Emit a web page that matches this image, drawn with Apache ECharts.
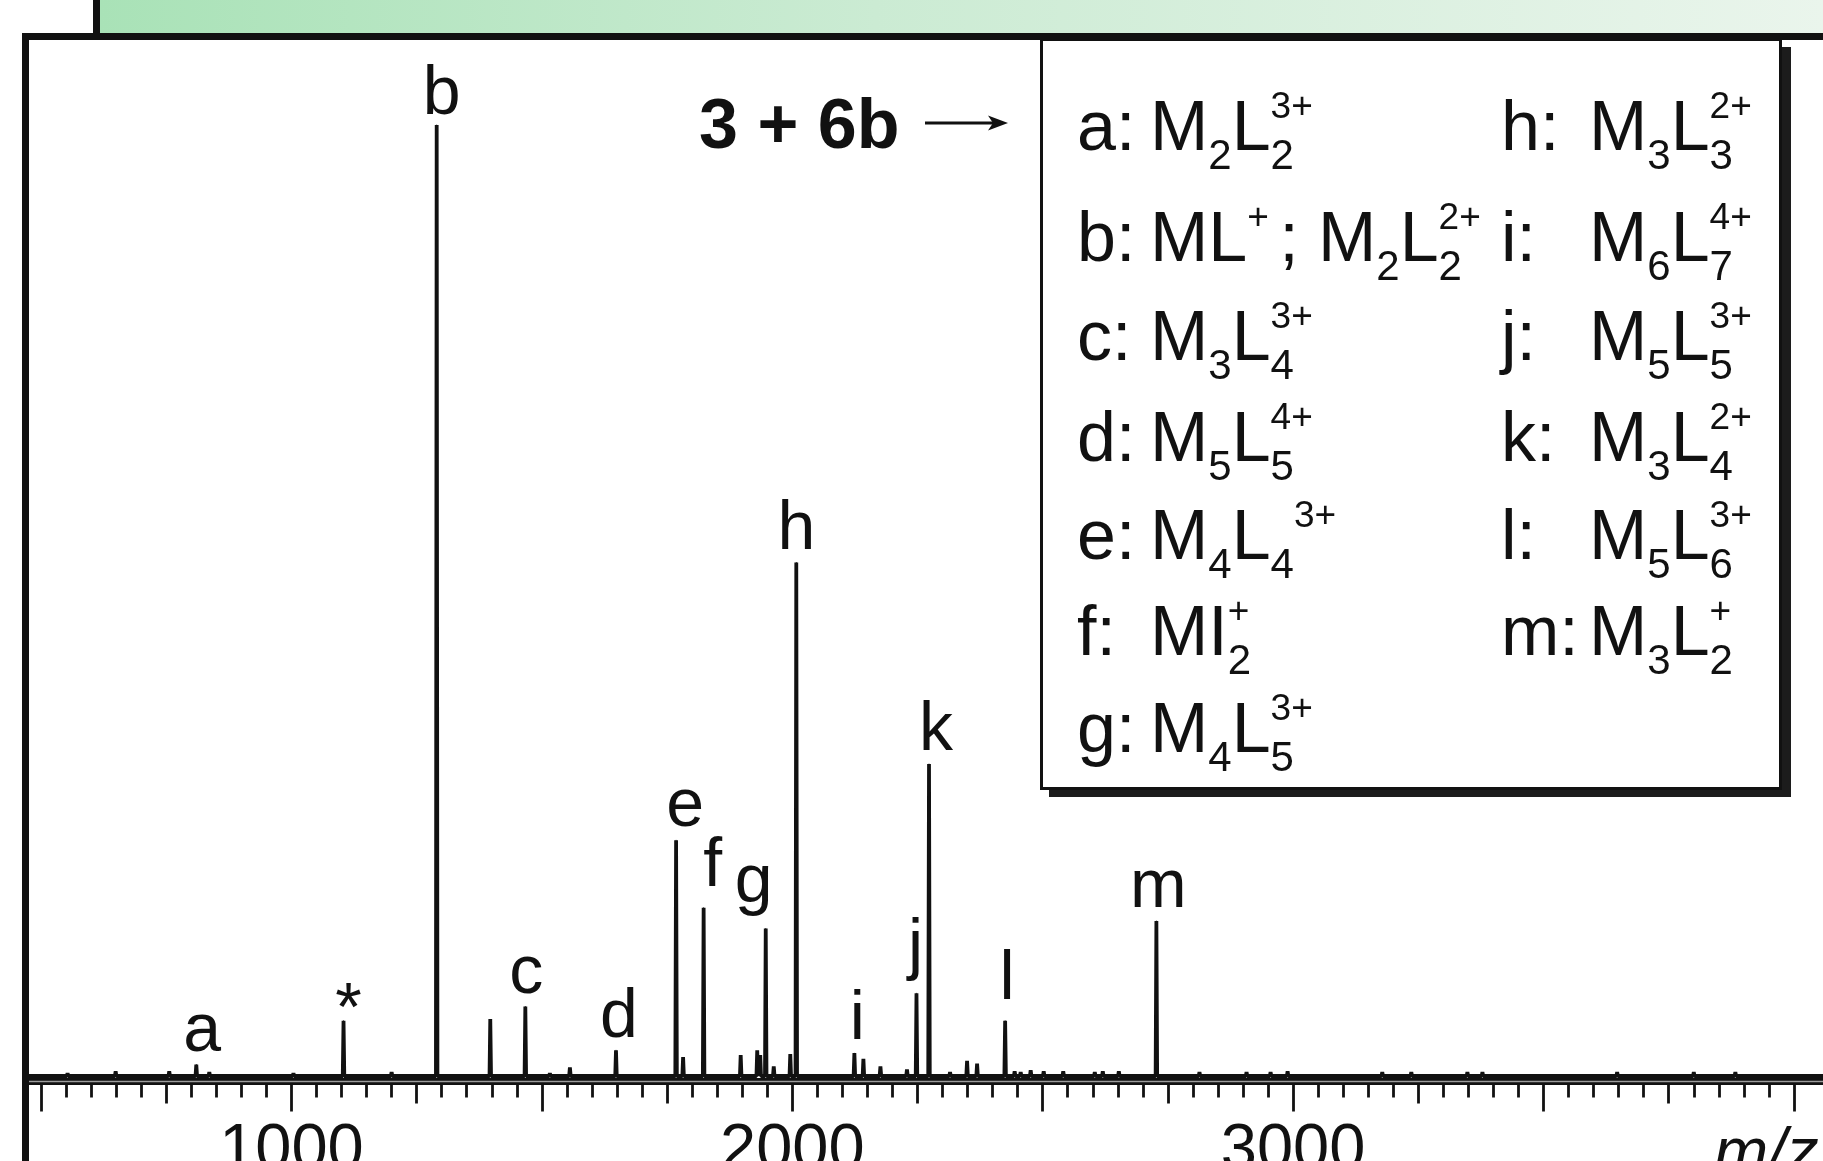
<!DOCTYPE html>
<html><head><meta charset="utf-8">
<script src="https://cdn.jsdelivr.net/npm/echarts@6/dist/echarts.min.js"></script>
<style>html,body{margin:0;padding:0;background:#fff;}#c{width:1823px;height:1161px;}</style>
</head><body><div id="c"></div>
<script>
// ---------------- DATA ----------------
const peakLabels    = ['a', '*',  'b',  'c',  'd',  'e',  'f',  'g',  'h',  'i',  'j',  'k',  'l',  'm'];
const peakMz        = [810, 1104, 1290, 1467, 1648, 1768, 1823, 1947, 2008, 2124, 2248, 2273, 2425, 2727];
const peakIntensity = [1.2, 5.8,  100,  7.3,  2.7,  24.8, 17.7, 15.5, 54,   2.4,  8.7,  32.8, 5.8,  16.3];

const minorMz        = [553, 649, 756, 836, 1004, 1200, 1397, 1516, 1556, 1782, 1897, 1930, 1936, 1963, 1996, 2142, 2176, 2229, 2315, 2349, 2369, 2444, 2456, 2476, 2502, 2541, 2604, 2620, 2652, 2813, 2907, 2955, 2989, 3178, 3236, 3348, 3378, 3647, 3800, 3883];
const minorIntensity = [0.3, 0.5, 0.5, 0.4, 0.3,  0.4,  6.0,  0.3,  0.9,  2.0,  2.2,  2.7,  2.2,  1.0,  2.3,  1.8,  1.0,  0.7,  0.4,  1.6,  1.3,  0.5,  0.4,  0.6,  0.5,  0.5,  0.4,  0.5,  0.5,  0.4,  0.4,  0.4,  0.5,  0.4,  0.4,  0.4,  0.4,  0.4,  0.4,  0.4];

const tickLabelValues = [1000, 2000, 3000];
const axisLabelText = 'm/z';
const titleText = '3 + 6b';

const legendLeftKeys  = ['a', 'b', 'c', 'd', 'e', 'f', 'g'];
const legendLeftForm  = ['M_2L_2^{3+}', 'ML^{+ }; M_2L_2^{2+}', 'M_3L_4^{3+}', 'M_5L_5^{4+}', 'M_4L_4|^{3+}', 'MI_2^+', 'M_4L_5^{3+}'];
const legendRightKeys = ['h', 'i', 'j', 'k', 'l', 'm'];
const legendRightForm = ['M_3L_3^{2+}', 'M_6L_7^{4+}', 'M_5L_5^{3+}', 'M_3L_4^{2+}', 'M_5L_6^{3+}', 'M_3L_2^+'];

// ---------------- STYLE / LAYOUT ----------------
const FONT = '"Liberation Sans", Arial, Helvetica, sans-serif';
const INK = '#111';
const X_MIN = 470, X_MAX = 4060;
const labelNudge = {a:[6,0], '*':[5,23], b:[5,3], c:[1,0], d:[3,0], e:[9,0], f:[9,-8], g:[-12,-13], i:[3,0], j:[-1,-13], k:[7,0], l:[2,-8], m:[2,0]};

const majorTicks = [], midTicks = [], minorTicks = [];
for (let v = 500; v <= 4000; v += 50) {
  if (v % 500 === 0) majorTicks.push(v);
  else if (v % 250 === 0) midTicks.push(v);
  else minorTicks.push(v);
}

// ---------------- SERIES DATA ----------------
const allPeaks = [];
peakMz.forEach((x, i) => allPeaks.push({x: x, y: peakIntensity[i]}));
minorMz.forEach((x, i) => allPeaks.push({x: x, y: minorIntensity[i]}));
allPeaks.sort((p, q) => p.x - q.x);
const HW = 1.5;
const specData = [[X_MIN, 0]];
allPeaks.forEach(p => {
  specData.push([p.x - HW, 0]);
  specData.push([p.x, p.y]);
  specData.push([p.x + HW, 0]);
});
specData.push([X_MAX, 0]);
const labelData = peakMz.map((x, i) => ({
  value: [x, peakIntensity[i]],
  label: {formatter: peakLabels[i], offset: labelNudge[peakLabels[i]] || [0, 0]}
}));

// ---------------- TEXT HELPERS ----------------
const cv = document.createElement('canvas').getContext('2d');
function setFont(size, weight, style) { cv.font = (style || 'normal') + ' ' + (weight || 'normal') + ' ' + size + 'px ' + FONT; }
function measure(t, size, weight, style) { setFont(size, weight, style); return cv.measureText(t).width; }
function midOffset(size, weight, style) {
  setFont(size, weight, style); cv.textBaseline = 'middle';
  const m = cv.measureText('H'); cv.textBaseline = 'alphabetic';
  return m.actualBoundingBoxDescent;
}
function textEl(t, x, baseline, size, opts) {
  opts = opts || {};
  return {type: 'text', x: x, y: baseline - midOffset(size, opts.weight, opts.style), z: 60,
    style: {text: t, fontSize: size, fontFamily: FONT, fontWeight: opts.weight || 'normal', fontStyle: opts.style || 'normal',
      fill: INK, align: 'left', verticalAlign: 'middle', textAlign: 'left', textVerticalAlign: 'middle'}};
}
function parseFormula(f) {
  const out = []; let i = 0;
  while (i < f.length) {
    const c = f[i];
    if (c === '_' || c === '^') {
      let t;
      if (f[i + 1] === '{') { const j = f.indexOf('}', i); t = f.slice(i + 2, j); i = j + 1; }
      else { t = f[i + 1]; i += 2; }
      out.push({type: c === '_' ? 'sub' : 'sup', text: t});
    } else if (c === '|') { out.push({type: 'brk'}); i++; }
    else { let j = i; while (j < f.length && '_^|'.indexOf(f[j]) < 0) j++; out.push({type: 'n', text: f.slice(i, j)}); i = j; }
  }
  return out;
}
const L_SIZE = 70, SUB_SIZE = 42, SUP_SIZE = 37, SUB_DY = 19, SUP_DY = -32;
function formulaEls(f, x0, base) {
  const els = []; let x = x0; let lastSub = null;
  parseFormula(f).forEach(tk => {
    if (tk.type === 'n') { els.push(textEl(tk.text, x, base, L_SIZE)); x += measure(tk.text, L_SIZE); lastSub = null; }
    else if (tk.type === 'sub') { const w = measure(tk.text, SUB_SIZE); els.push(textEl(tk.text, x, base + SUB_DY, SUB_SIZE)); lastSub = {x: x, w: w}; x += w; }
    else if (tk.type === 'sup') {
      const w = measure(tk.text, SUP_SIZE);
      if (lastSub) { els.push(textEl(tk.text, lastSub.x, base + SUP_DY, SUP_SIZE)); x = lastSub.x + Math.max(lastSub.w, w); }
      else { els.push(textEl(tk.text, x, base + SUP_DY, SUP_SIZE)); x += w; }
      lastSub = null;
    } else { lastSub = null; }
  });
  return els;
}

// ---------------- GRAPHICS ----------------
const rowsBase = [150, 261, 360, 461, 559, 655, 752];
const g = [];
g.push({type: 'rect', z: 90, shape: {x: 100, y: 0, width: 1723, height: 33},
  style: {fill: {type: 'linear', x: 0, y: 0, x2: 1, y2: 0, colorStops: [
    {offset: 0, color: '#a9e2b7'}, {offset: 0.45, color: '#cbebd3'}, {offset: 1, color: '#eaf5ec'}]}}});
g.push({type: 'rect', z: 91, shape: {x: 93, y: 0, width: 7, height: 40}, style: {fill: INK}});
g.push({type: 'rect', z: 91, shape: {x: 22, y: 33, width: 1801, height: 7}, style: {fill: INK}});
g.push({type: 'rect', z: 91, shape: {x: 22, y: 33, width: 7, height: 1128}, style: {fill: INK}});
g.push({type: 'rect', z: 40, shape: {x: 1049, y: 47, width: 742, height: 750}, style: {fill: '#1c1c1c'}});
g.push({type: 'rect', z: 41, shape: {x: 1041.5, y: 39.5, width: 739, height: 749}, style: {fill: '#fff', stroke: INK, lineWidth: 3}});
legendLeftKeys.forEach((k, i) => {
  g.push(textEl(k + ':', 1077, rowsBase[i], L_SIZE));
  formulaEls(legendLeftForm[i], 1150, rowsBase[i]).forEach(e => g.push(e));
});
legendRightKeys.forEach((k, i) => {
  g.push(textEl(k + ':', 1501, rowsBase[i], L_SIZE));
  formulaEls(legendRightForm[i], 1589, rowsBase[i]).forEach(e => g.push(e));
});
g.push(textEl(titleText, 699, 148, 70, {weight: 'bold'}));
g.push({type: 'line', z: 60, shape: {x1: 925, y1: 123, x2: 996, y2: 123}, style: {stroke: INK, lineWidth: 3}});
g.push({type: 'polygon', z: 60, shape: {points: [[1008, 123], [988, 115.5], [993, 123], [988, 130.5]]}, style: {fill: INK}});
g.push(textEl(axisLabelText, 1714, 1173, 65, {style: 'italic'}));

// ---------------- CHART ----------------
const chart = echarts.init(document.getElementById('c'), null, {renderer: 'canvas'});
function tickAxis(values, len) {
  return {
    type: 'value', min: X_MIN, max: X_MAX, position: 'bottom',
    axisLine: {show: false, onZero: false},
    axisTick: {show: true, customValues: values, length: len, lineStyle: {color: INK, width: 2.8}},
    axisLabel: {show: false}, splitLine: {show: false}, minorTick: {show: false}
  };
}
const option = {
  animation: false,
  backgroundColor: '#fff',
  grid: {left: 26, right: -1, top: 125, bottom: 79.5, containLabel: false, outerBoundsMode: 'none'},
  xAxis: [
    {
      type: 'value', min: X_MIN, max: X_MAX, position: 'bottom', z: 1,
      axisLine: {show: true, onZero: false, lineStyle: {color: INK, width: 7}},
      axisTick: {show: true, customValues: majorTicks, length: 30, lineStyle: {color: INK, width: 2.8}},
      axisLabel: {show: true, customValues: tickLabelValues, fontSize: 65, fontFamily: FONT, color: INK, margin: 37,
        formatter: v => String(v)},
      splitLine: {show: false}
    },
    tickAxis(midTicks, 22),
    tickAxis(minorTicks, 16),
    {type: 'value', min: X_MIN, max: X_MAX, position: 'bottom', z: 3,
      axisLine: {show: true, onZero: false, lineStyle: {color: '#9c9c9c', width: 1.3}},
      axisTick: {show: false}, axisLabel: {show: false}, splitLine: {show: false}}
  ],
  yAxis: {type: 'value', min: -0.578, max: 100, show: false, splitLine: {show: false}},
  series: [{
    type: 'line', xAxisIndex: 0, yAxisIndex: 0, data: specData,
    symbol: 'none', showSymbol: false, sampling: null, silent: true, z: 5,
    lineStyle: {color: INK, width: 3.8, join: 'bevel'}
  }, {
    type: 'scatter', xAxisIndex: 0, yAxisIndex: 0, data: labelData, silent: true, z: 6,
    symbol: 'circle', symbolSize: 1, itemStyle: {color: INK, opacity: 1},
    label: {show: true, position: 'top', distance: -2, fontSize: 68, fontFamily: FONT, color: INK, opacity: 1}
  }],
  graphic: {elements: g}
};
chart.setOption(option);
</script>
</body></html>
